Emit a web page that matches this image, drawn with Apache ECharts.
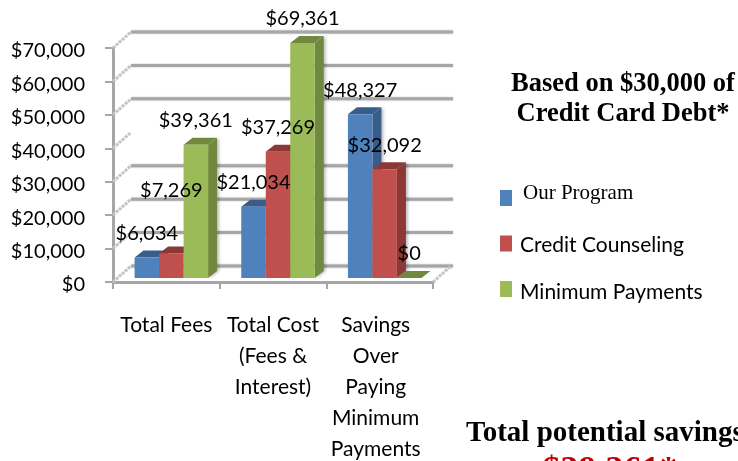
<!DOCTYPE html>
<html>
<head>
<meta charset="utf-8">
<style>html,body{margin:0;padding:0;background:#fff;overflow:hidden}#chart{width:738px;height:461px}</style>
<script src="https://cdn.jsdelivr.net/npm/echarts@6/dist/echarts.min.js"></script>
</head>
<body>
<div id="chart"></div>
<script>
const categories = ['Total Fees', 'Total Cost\n(Fees &\nInterest)', 'Savings\nOver\nPaying\nMinimum\nPayments'];
const ourProgram = [6034, 21034, 48327];
const creditCounseling = [7269, 37269, 32092];
const minimumPayments = [39361, 69361, 0];
const yTicks = [0, 10000, 20000, 30000, 40000, 50000, 60000, 70000];
// no back wall line is visible at 40,000 in the original
const backWallTicks = [0, 10000, 20000, 30000, 50000, 60000, 70000];

const uiFont = 'Lato';
const depthX = 18;
const depthY = 16;

function money(v) {
  return '$' + v.toLocaleString('en-US');
}

// back wall lines and the slanted stubs on the left wall
function renderWall(params, api) {
  const v = api.value(0);
  const cs = params.coordSys;
  const y = api.coord([0, v])[1];
  const left = cs.x;
  const right = cs.x + cs.width;
  const children = [{
    type: 'line',
    shape: { x1: left, y1: y, x2: left + depthX, y2: y - depthY },
    style: { stroke: '#c4c4c4', lineWidth: 3, lineDash: [3, 1] },
  }];
  if (backWallTicks.indexOf(v) >= 0) {
    children.push({
      type: 'line',
      shape: { x1: left + depthX, y1: y - depthY, x2: right + depthX + 2, y2: y - depthY },
      style: { stroke: '#a6a6a6', lineWidth: 3, shadowBlur: 2, shadowColor: '#bbbbbb' },
    });
  }
  if (v === 0) {
    children.push({
      type: 'line',
      shape: { x1: right, y1: y, x2: right + depthX, y2: y - depthY },
      style: { stroke: '#c4c4c4', lineWidth: 3, lineDash: [3, 1] },
    });
  }
  return { type: 'group', children };
}

function bar3d(offset, front, dark, labelShift) {
  return function (params, api) {
    const cat = api.value(0);
    const val = api.value(1);
    const top = api.coord([cat, val]);
    const base = api.coord([cat, 0]);
    const w = 24.5;
    const x = top[0] + offset - w / 2;
    const dx = 9;
    const dy = 7;
    const shift = labelShift[cat] || 0;
    return {
      type: 'group',
      children: [
        {
          type: 'polygon',
          shape: { points: [[x + w, top[1]], [x + w + dx, top[1] - dy], [x + w + dx, base[1] - dy], [x + w, base[1]]] },
          style: { fill: dark, shadowBlur: 3, shadowOffsetX: 2, shadowColor: 'rgba(0,0,0,0.25)' },
        },
        {
          type: 'polygon',
          shape: { points: [[x, top[1]], [x + dx, top[1] - dy], [x + w + dx, top[1] - dy], [x + w, top[1]]] },
          style: { fill: dark },
        },
        {
          type: 'rect',
          shape: { x: x, y: top[1], width: w, height: base[1] - top[1] },
          style: { fill: front },
        },
        {
          type: 'text',
          z2: 100,
          style: {
            x: x + w / 2,
            y: top[1] - 24 + shift,
            text: money(val),
            fill: '#000',
            font: '20px ' + uiFont,
            align: 'center',
            verticalAlign: 'middle',
          },
        },
      ],
    };
  };
}

function barSeries(name, values, offset, front, dark, labelShift) {
  return {
    type: 'custom',
    name: name,
    yAxisIndex: 1,
    itemStyle: { color: front },
    encode: { x: 0, y: 1 },
    data: values.map((v, i) => [i, v]),
    renderItem: bar3d(offset, front, dark, labelShift),
  };
}

// the swatch is not centred on its text in the original, so the icon path
// carries an empty point that stretches the item above or below the square
function legendItem(name, top, font, size, textLeft, icon, itemHeight) {
  return {
    data: [name],
    left: 500,
    top: top,
    padding: 0,
    itemWidth: 12,
    itemHeight: itemHeight,
    icon: icon,
    selectedMode: false,
    textStyle: { fontFamily: font, fontSize: size, color: '#000', padding: [0, 0, 0, textLeft] },
  };
}

const chart = echarts.init(document.getElementById('chart'), null, { renderer: 'canvas' });
chart.setOption({
  animation: false,
  backgroundColor: '#fff',
  title: [
    {
      text: 'Based on $30,000 of\nCredit Card Debt*',
      left: 623,
      top: 69,
      textAlign: 'center',
      textStyle: { fontFamily: 'Liberation Serif', fontWeight: 'bold', fontSize: 26.5, lineHeight: 30, color: '#000' },
      padding: 0,
    },
    {
      text: 'Total potential savings',
      left: 466,
      top: 419,
      textStyle: { fontFamily: 'Liberation Serif', fontWeight: 'bold', fontSize: 29, lineHeight: 30, color: '#000' },
      padding: 0,
    },
    {
      text: '$39,361*',
      left: 610,
      top: 452,
      textAlign: 'center',
      textStyle: { fontFamily: 'Liberation Serif', fontWeight: 'bold', fontSize: 36, lineHeight: 40, color: '#c00000' },
      padding: 0,
    },
  ],
  legend: [
    legendItem('Our Program', 179, 'Liberation Serif', 21, 6, 'path://M0,0 L0.01,0 L0,0 Z M0,11 H12 V27 H0 Z M0,29 L0.01,29 L0,29 Z', 29),
    legendItem('Credit Counseling', 235, uiFont, 21, 3, 'path://M0,0 H12 V16 H0 Z M0,20 L0.01,20 L0,20 Z', 20),
    legendItem('Minimum Payments', 281, uiFont, 21, 3, 'path://M0,0 H12 V16 H0 Z M0,22 L0.01,22 L0,22 Z', 22),
  ],
  grid: { left: 113, top: 48, width: 320, height: 234, outerBoundsMode: 'none' },
  xAxis: {
    type: 'category',
    data: categories,
    axisLine: { lineStyle: { color: '#a6a6a6', width: 3 } },
    axisTick: { show: true, length: 7, lineStyle: { color: '#a6a6a6', width: 2 } },
    axisLabel: {
      interval: 0,
      margin: 28,
      fontFamily: uiFont,
      fontSize: 21,
      lineHeight: 31,
      color: '#000',
      verticalAlign: 'top',
      // the last column of labels sits slightly left of its band
      formatter: (value, i) => (i === 2 ? value.split('\n').map((l) => `{s|${l}}`).join('\n') : value),
      rich: { s: { fontFamily: uiFont, fontSize: 21, lineHeight: 31, color: '#000', padding: [0, 8, 0, 0] } },
    },
  },
  yAxis: [
    {
      type: 'value',
      min: 0,
      max: 70000,
      interval: 10000,
      axisLine: { show: true, lineStyle: { color: '#a6a6a6', width: 3 } },
      axisTick: { show: true, length: 8, lineStyle: { color: '#a6a6a6', width: 2 } },
      splitLine: { show: false },
      axisLabel: {
        margin: 28,
        fontFamily: uiFont,
        fontSize: 20,
        color: '#000',
        formatter: (v) => `{v|${money(v)}}`,
        verticalAlignMinLabel: 'middle',
        verticalAlignMaxLabel: 'middle',
        // tick labels sit a little below their ticks
        rich: { v: { fontFamily: uiFont, fontSize: 20, color: '#000', padding: [6, 0, 0, 0] } },
      },
    },
    // bars stand a little inside the floor, so they get their own hidden scale
    { type: 'value', min: -1180, max: 67890, show: false, splitLine: { show: false } },
  ],
  series: [
    {
      type: 'custom',
      silent: true,
      encode: { y: 0 },
      data: yTicks.map((v) => [v]),
      renderItem: renderWall,
      z: 1,
    },
    barSeries('Our Program', ourProgram, -19.5, '#4f81bd', '#385d8a', []),
    barSeries('Credit Counseling', creditCounseling, 5, '#c0504d', '#8c3836', [-39]),
    barSeries('Minimum Payments', minimumPayments, 29.5, '#9bbb59', '#71893f', []),
  ],
});
</script>
</body>
</html>
